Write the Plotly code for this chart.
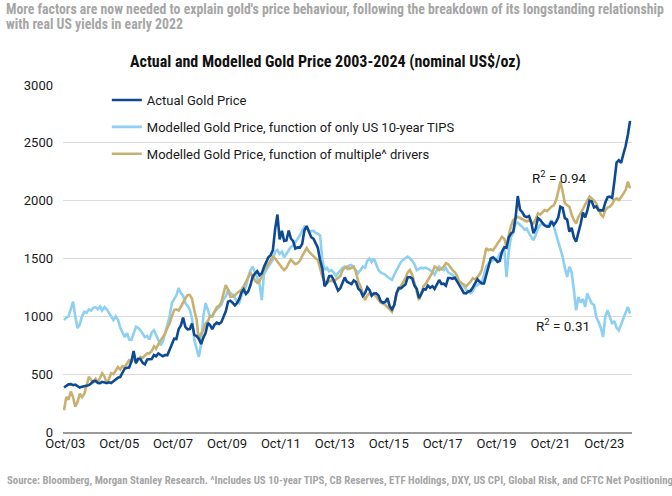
import pandas as pd
import plotly.graph_objects as go

# Monthly observations, Oct 2003 - Oct 2024
start_month = "2003-10-01"

actual = [
    385, 398, 412,
    414, 405, 410, 395, 384, 392, 398, 400, 405, 420, 439, 442,
    424, 423, 434, 429, 422, 430, 424, 438, 456, 470, 476, 510,
    549, 555, 557, 610, 700, 596, 633, 632, 598, 585, 627, 629,
    631, 665, 655, 679, 667, 655, 665, 665, 712, 754, 806, 803,
    889, 922, 990, 909, 888, 890, 939, 839, 829, 806, 760, 816,
    858, 943, 924, 890, 928, 945, 934, 949, 996, 1043, 1127, 1134,
    1118, 1095, 1113, 1148, 1205, 1233, 1193, 1215, 1271, 1343, 1370, 1391,
    1356, 1372, 1424, 1473, 1510, 1529, 1572, 1756, 1880, 1665, 1739, 1652,
    1656, 1742, 1673, 1650, 1585, 1596, 1594, 1626, 1744, 1780, 1722, 1684,
    1671, 1627, 1593, 1487, 1414, 1260, 1286, 1347, 1349, 1316, 1275, 1222,
    1244, 1301, 1336, 1299, 1288, 1279, 1311, 1296, 1239, 1222, 1176, 1201,
    1251, 1227, 1179, 1198, 1199, 1181, 1131, 1117, 1125, 1157, 1086, 1060,
    1097, 1200, 1246, 1242, 1260, 1276, 1337, 1340, 1326, 1266, 1238, 1158,
    1192, 1234, 1231, 1266, 1246, 1260, 1237, 1283, 1314, 1280, 1282, 1265,
    1331, 1331, 1325, 1335, 1303, 1282, 1238, 1202, 1198, 1215, 1221, 1250,
    1291, 1320, 1300, 1285, 1284, 1359, 1413, 1500, 1510, 1495, 1471, 1480,
    1560, 1597, 1592, 1683, 1715, 1732, 1847, 2040, 1922, 1900, 1866, 1858,
    1867, 1808, 1718, 1760, 1850, 1834, 1807, 1785, 1776, 1777, 1821, 1790,
    1816, 1856, 1948, 1937, 1849, 1836, 1732, 1765, 1681, 1645, 1726, 1798,
    1898, 1855, 1913, 2000, 1992, 1942, 1951, 1918, 1916, 1916, 1985, 2030,
    2034, 2023, 2160, 2330, 2350, 2326, 2400, 2470, 2570, 2690,
]

model_tips = [
    968, 990, 1000,
    1060, 1127, 1000, 898, 930, 1000, 1040, 1030, 1060, 1050, 1075, 1080,
    1060, 1085, 1050, 1080, 1060, 1030, 1000, 968, 1000, 970, 900, 860,
    820, 855, 800, 795, 850, 910, 900, 880, 850, 820, 830, 800,
    860, 880, 840, 800, 750, 780, 850, 912, 1000, 1115, 1150, 1180,
    1245, 1200, 1180, 1115, 1090, 1055, 980, 795, 720, 650, 760, 1000,
    1115, 1050, 1000, 1000, 1040, 1060, 1080, 1100, 1150, 1170, 1230, 1200,
    1190, 1160, 1130, 1115, 1180, 1220, 1260, 1340, 1400, 1430, 1380, 1315,
    1280, 1140, 1360, 1400, 1430, 1470, 1490, 1560, 1575, 1540, 1560, 1510,
    1540, 1570, 1600, 1610, 1640, 1660, 1700, 1740, 1775, 1760, 1740, 1735,
    1740, 1720, 1715, 1700, 1490, 1400, 1420, 1390, 1400, 1380, 1350, 1375,
    1400, 1420, 1430, 1410, 1440, 1445, 1420, 1400, 1375, 1400, 1430, 1420,
    1480, 1500, 1470, 1500, 1450, 1400, 1380, 1370, 1360, 1340, 1330, 1315,
    1360, 1400, 1430, 1470, 1490, 1500, 1517, 1500, 1480, 1450, 1400, 1410,
    1420, 1415, 1420, 1410, 1400, 1380, 1360, 1400, 1430, 1410, 1400, 1420,
    1380, 1370, 1360, 1330, 1310, 1300, 1285, 1260, 1230, 1215, 1200, 1220,
    1260, 1270, 1285, 1290, 1350, 1430, 1457, 1470, 1486, 1490, 1500, 1543,
    1560, 1572, 1340, 1560, 1688, 1720, 1803, 1810, 1790, 1775, 1750, 1760,
    1717, 1680, 1659, 1700, 1760, 1790, 1800, 1790, 1780, 1800, 1832, 1780,
    1717, 1650, 1580, 1515, 1420, 1341, 1428, 1380, 1225, 1052, 1168, 1120,
    1150, 1081, 1197, 1150, 1110, 1100, 994, 950, 900, 821, 1000, 1052,
    1000, 936, 960, 900, 879, 930, 994, 1040, 1081, 1023,
]

model_multi = [
    188, 303, 280,
    350, 300, 218, 260, 330, 303, 330, 400, 477, 450, 433, 460,
    430, 470, 508, 480, 420, 460, 508, 500, 530, 563, 540, 570,
    563, 600, 620, 610, 640, 600, 620, 650, 640, 660, 680, 680,
    700, 740, 720, 760, 790, 823, 850, 900, 938, 1000, 1055, 1060,
    1050, 1085, 1120, 1150, 1185, 1185, 1150, 1050, 968, 795, 850, 880,
    938, 960, 1000, 1000, 1040, 1080, 1090, 1120, 1200, 1270, 1230, 1170,
    1170, 1180, 1200, 1215, 1230, 1260, 1300, 1340, 1375, 1350, 1310, 1290,
    1300, 1350, 1400, 1420, 1450, 1480, 1515, 1500, 1470, 1450, 1420, 1400,
    1420, 1460, 1490, 1470, 1450, 1460, 1480, 1520, 1560, 1590, 1560, 1540,
    1520, 1500, 1490, 1420, 1345, 1300, 1290, 1300, 1310, 1300, 1315, 1330,
    1350, 1400, 1420, 1430, 1410, 1420, 1430, 1380, 1300, 1260, 1200, 1140,
    1180, 1200, 1180, 1200, 1170, 1140, 1120, 1110, 1100, 1080, 1060, 1040,
    1100, 1200, 1228, 1260, 1300, 1330, 1380, 1400, 1360, 1285, 1200, 1140,
    1200, 1260, 1280, 1315, 1350, 1380, 1430, 1420, 1400, 1410, 1430, 1460,
    1450, 1420, 1400, 1380, 1350, 1300, 1285, 1270, 1260, 1280, 1300, 1330,
    1320, 1340, 1360, 1400, 1490, 1590, 1572, 1580, 1570, 1600, 1630, 1650,
    1688, 1670, 1600, 1700, 1780, 1832, 1850, 1861, 1850, 1840, 1832, 1820,
    1830, 1810, 1803, 1840, 1890, 1880, 1900, 1919, 1910, 1930, 1948, 1960,
    2000, 2080, 2165, 2080, 1977, 1960, 1948, 1880, 1830, 1803, 1860, 1890,
    1930, 1977, 2000, 2035, 2020, 2000, 1977, 1920, 1880, 1861, 1919, 1940,
    1948, 1970, 2006, 2020, 2006, 2030, 2064, 2090, 2165, 2107,
]

tick_values = ["2003-11-01", "2005-11-01", "2007-11-01", "2009-11-01", "2011-11-01",
               "2013-11-01", "2015-11-01", "2017-11-01", "2019-11-01", "2021-11-01",
               "2023-11-01"]
tick_labels = ["Oct/03", "Oct/05", "Oct/07", "Oct/09", "Oct/11", "Oct/13",
               "Oct/15", "Oct/17", "Oct/19", "Oct/21", "Oct/23"]
y_ticks = [0, 500, 1000, 1500, 2000, 2500, 3000]

series_names = ["Actual Gold Price",
                "Modelled Gold Price, function of only US 10-year TIPS",
                "Modelled Gold Price, function of multiple^ drivers"]
colors = ["#0D4A93", "#8ED0F1", "#C8B170"]

n = max(len(actual), len(model_tips), len(model_multi))
dates = pd.date_range(start=start_month, periods=n, freq="MS") + pd.Timedelta(days=14)

series = {0: actual, 1: model_tips, 2: model_multi}
fig = go.Figure()
for idx in [1, 2, 0]:  # draw actual on top
    vals = series[idx]
    fig.add_trace(go.Scatter(
        x=dates[:len(vals)], y=vals, mode="lines", name=series_names[idx],
        line=dict(color=colors[idx], width=2.6), legendgroup=str(idx),
        legendrank=idx + 1,
    ))

narrow = "Liberation Sans Narrow, Roboto Condensed, Arial Narrow, sans-serif"

fig.update_layout(
    width=672, height=496,
    margin=dict(l=63, r=40, t=85, b=64),
    paper_bgcolor="white", plot_bgcolor="white",
    font=dict(family="Roboto, sans-serif", size=13, color="#1a1a1a"),
    showlegend=True,
    legend=dict(x=0.077, y=1.0, xanchor="left", yanchor="top",
                bgcolor="rgba(0,0,0,0)", font=dict(size=13, color="#1a1a1a"),
                tracegroupgap=7, itemwidth=30, traceorder="grouped"),
    xaxis=dict(type="date", range=["2003-10-01", "2024-11-10"],
               tickmode="array", tickvals=tick_values, ticktext=tick_labels,
               showgrid=False, showline=True, linecolor="#9B9B9B", linewidth=2,
               ticks="", ticklabelstandoff=-2,
               tickfont=dict(size=13, color="#1a1a1a")),
    yaxis=dict(range=[0, 3000], tickmode="array", tickvals=y_ticks,
               showgrid=True, gridcolor="#DADADA", gridwidth=1,
               zeroline=False, showline=False, ticks="",
               ticklabelstandoff=9, tickfont=dict(size=13, color="#1a1a1a")),
)

annotations = [
    dict(text="More factors are now needed to explain gold's price behaviour, following the breakdown of its longstanding relationship",
         xref="paper", yref="paper", x=-0.1037, y=1.219, xanchor="left", yanchor="middle",
         showarrow=False, font=dict(family=narrow, size=13.8, color="#A6A6A6", weight="bold")),
    dict(text="with real US yields in early 2022",
         xref="paper", yref="paper", x=-0.1037, y=1.1758, xanchor="left", yanchor="middle",
         showarrow=False, font=dict(family=narrow, size=13.8, color="#A6A6A6", weight="bold")),
    dict(text="Actual and Modelled Gold Price 2003-2024 (nominal US$/oz)",
         xref="paper", yref="paper", x=0.4605, y=1.0663, xanchor="center", yanchor="middle",
         showarrow=False, font=dict(family=narrow, size=16, color="#111111", weight="bold")),
    dict(text="Source: Bloomberg, Morgan Stanley Research. ^Includes US 10-year TIPS, CB Reserves, ETF Holdings, DXY, US CPI, Global Risk, and CFTC Net Positioning",
         xref="paper", yref="paper", x=-0.1019, y=-0.1412, xanchor="left", yanchor="middle",
         showarrow=False, font=dict(family=narrow, size=10.8, color="#A6A6A6", weight="bold")),
    dict(text="R<sup>2</sup> = 0.94", xref="x", yref="y", x="2022-03-01", y=2207,
         xanchor="center", yanchor="middle", showarrow=False,
         font=dict(size=13.5, color="#1a1a1a")),
    dict(text="R<sup>2</sup> = 0.31", xref="x", yref="y", x="2022-04-15", y=924,
         xanchor="center", yanchor="middle", showarrow=False,
         font=dict(size=13.5, color="#1a1a1a")),
]
fig.update_layout(annotations=annotations)

fig.write_html("out.html", config={"displayModeBar": False},
               post_script="document.body.style.margin='0px';")
